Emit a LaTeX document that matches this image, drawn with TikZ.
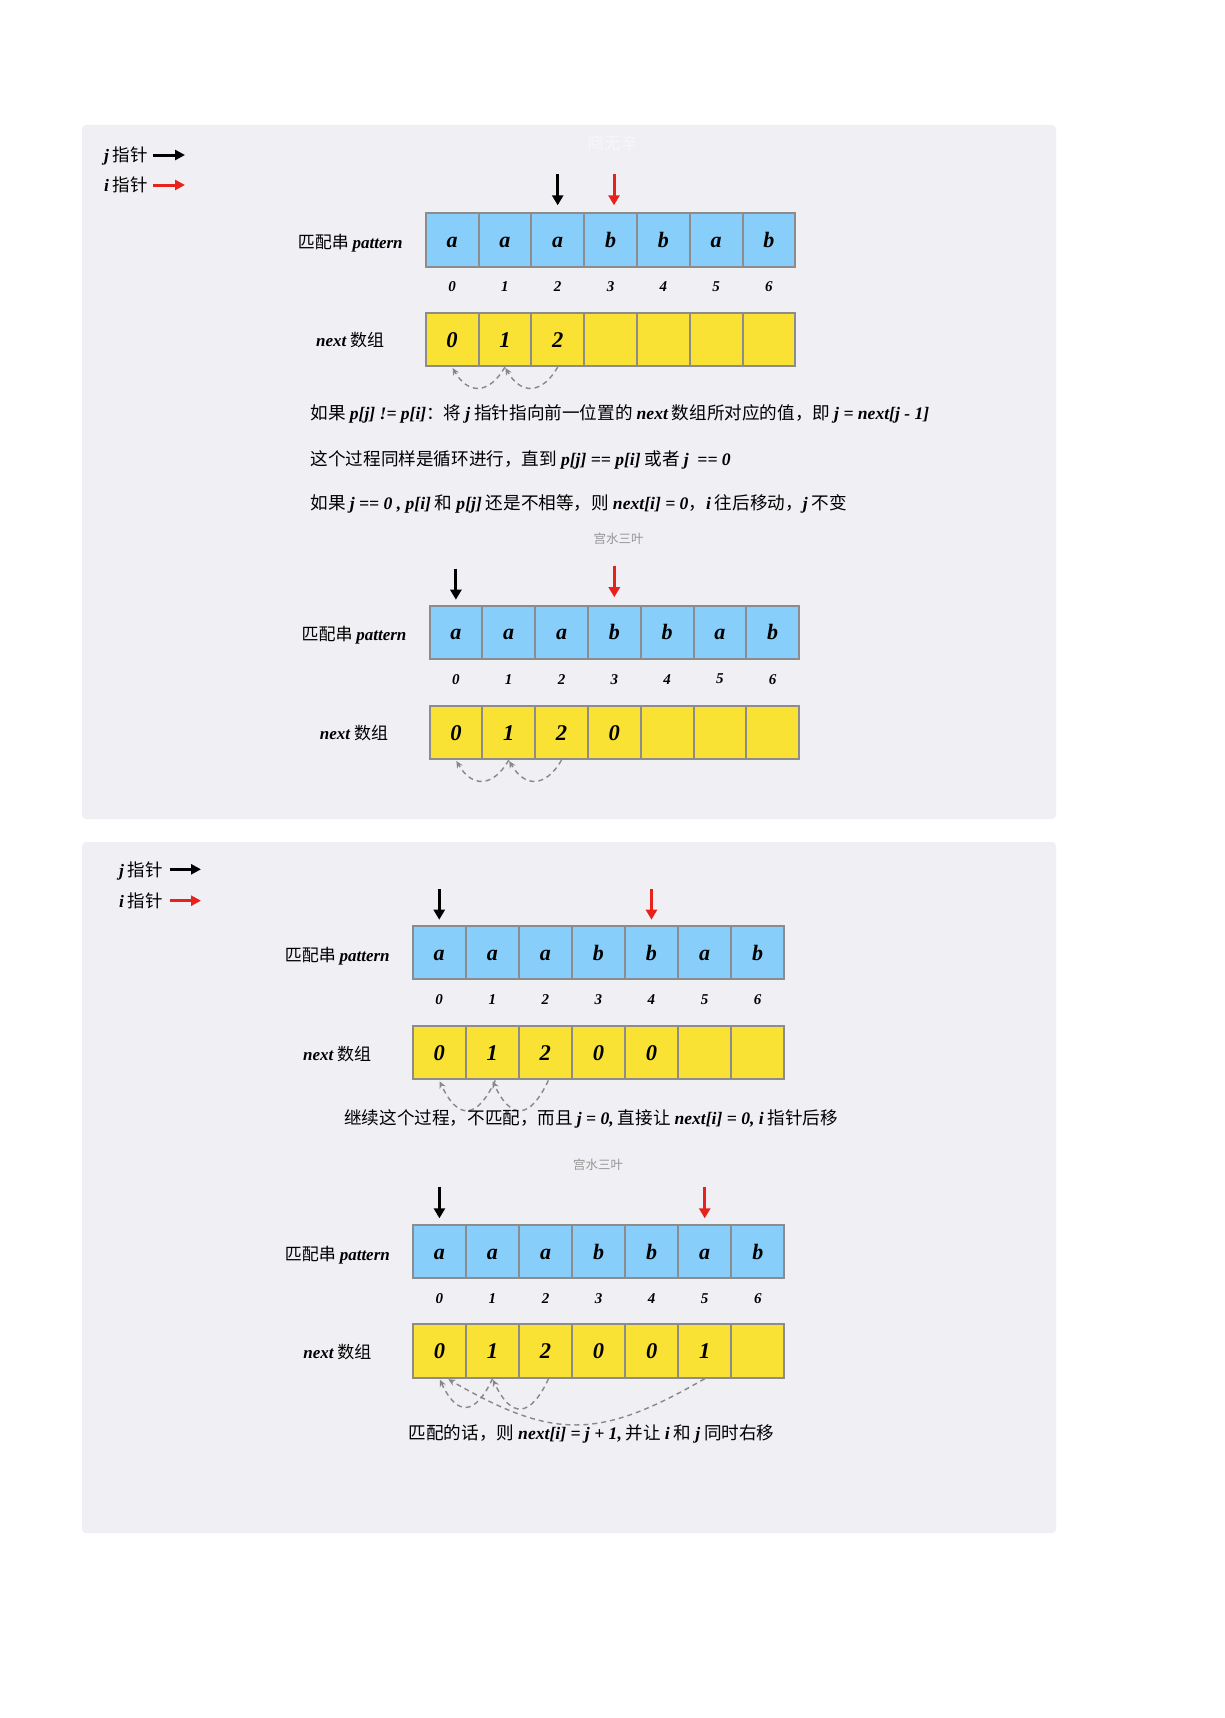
\documentclass[tikz,border=0pt]{standalone}
\usepackage{fontspec}
\setmainfont{Liberation Serif}
\newfontfamily\cjk{Noto Sans CJK SC}
\usetikzlibrary{arrows.meta}
\definecolor{panelbg}{RGB}{239,239,244}
\definecolor{cellblue}{RGB}{135,206,250}
\definecolor{cellyellow}{RGB}{250,226,52}
\definecolor{cellborder}{RGB}{140,140,140}
\definecolor{ptrred}{RGB}{232,34,26}
\definecolor{arcgray}{RGB}{135,135,140}
\definecolor{wmgray}{RGB}{150,150,150}
\definecolor{wmfaint}{RGB}{247,247,250}
\newcommand\mth[1]{{\rmfamily\bfseries\itshape #1}}
\tikzset{
 panel/.style={fill=panelbg, draw=none, rounded corners=4pt},
 pcell/.style={draw=cellborder, line width=2pt, fill=cellblue, minimum height=53.4pt, inner sep=0pt,
   text height=15pt, text depth=0pt, font=\rmfamily\bfseries\itshape\fontsize{22}{22}\selectfont},
 ncell/.style={pcell, fill=cellyellow, text height=15.6pt, font=\rmfamily\bfseries\itshape\fontsize{22.5}{22.5}\selectfont},
 idx/.style={font=\rmfamily\bfseries\itshape\fontsize{15}{15}\selectfont, inner sep=0pt},
 lbl/.style={font=\cjk\fontsize{17}{19}\selectfont, inner sep=0pt, text height=15pt, text depth=2pt},
 txt/.style={font=\cjk\fontsize{17.6}{20}\selectfont, inner sep=0pt, anchor=west, text height=15.5pt, text depth=2pt},
 leg/.style={font=\cjk\fontsize{17.5}{20}\selectfont, inner sep=0pt, anchor=east, text height=15.4pt, text depth=2pt},
 wm/.style={font=\cjk\fontsize{12.5}{14}\selectfont, text=wmgray, inner sep=0pt},
 jptr/.style={draw=black, line width=3pt, -{Triangle[length=10pt,width=11pt]}},
 iptr/.style={jptr, draw=ptrred, fill=ptrred},
 legj/.style={draw=black, line width=3pt, -{Triangle[length=10pt,width=10pt]}},
 legi/.style={legj, draw=ptrred, fill=ptrred},
 nextarc/.style={draw=arcgray, line width=1.4pt, dash pattern=on 5pt off 4pt, -{Stealth[length=7pt,width=6.5pt]}, shorten >=1pt},
}
% #1 id, #2 x0, #3 cell width, #4 pattern top, #5 next top, #6 next values
\newcommand\kmpdiagram[6]{%
 \foreach \c [count=\k from 0] in {a,a,a,b,b,a,b}
   \node[pcell, minimum width=#3] (#1p\k) at ({#2+(\k+0.5)*#3}, {#4+26.7}) {\c};
 \foreach \v [count=\k from 0] in {#6}
   \node[ncell, minimum width=#3] (#1n\k) at ({#2+(\k+0.5)*#3}, {#5+26.7}) {\v};
 \foreach \k in {0,...,6}
   \node[idx] (#1i\k) at ({#2+(\k+0.5)*#3}, {#4+73.4}) {\k};
 \node[lbl] (#1lp) at ({#2-75.5}, {#4+28.7}) {匹配串 \mth{pattern}};
 \node[lbl] (#1ln) at ({#2-75.5}, {#5+27.7}) {\mth{next} 数组};
}
\begin{document}
\begin{tikzpicture}[x=1pt,y=-1pt]
\useasboundingbox[fill=white] (0,0) rectangle (1225,1718);
% panels
\path[panel] (82,125) rectangle (1056,819);
\path[panel] (82,842) rectangle (1056,1533);
\node[font=\cjk\fontsize{17}{20}\selectfont, text=wmfaint, inner sep=0pt] (wm0) at (612.5,142.7) {商无辛};

% ---------- panel 1 legend
\node[leg] (L1j) at (148,155) {\mth{j} 指针};
\node[leg] (L1i) at (148,185) {\mth{i} 指针};
\coordinate (L1je) at (185,155);
\coordinate (L1ie) at (185,185);
\draw[legj] ([xshift=5pt]L1j.east) -- (L1je);
\draw[legi] ([xshift=5pt]L1i.east) -- (L1ie);

% ---------- diagram 1
\kmpdiagram{d1}{425.7}{52.8}{213.3}{312.7}{0,1,2,{},{},{},{}}
\path (d1p2.north) ++(0,-38) coordinate (d1jt);
\path (d1p3.north) ++(3.5,-38) coordinate (d1it);
\draw[jptr, shorten >=7pt] (d1jt) -- (d1p2.north);
\draw[iptr, shorten >=7pt] (d1it) -- ([xshift=3.5pt]d1p3.north);
\draw[nextarc] (d1n2.south) to[out=-120,in=-60,looseness=1.55] (d1n1.south);
\draw[nextarc] (d1n1.south) to[out=-120,in=-60,looseness=1.55] (d1n0.south);

\node[txt] (t1) at (310.5,412.3) {如果 \mth{p[j] != p[i]}：将 \mth{j} 指针指向前一位置的 \mth{next} 数组所对应的值，即 \mth{j = next[j - 1]}};
\node[txt] (t2) at (310.5,459) {这个过程同样是循环进行，直到 \mth{p[j] == p[i]} 或者 \mth{j \ == 0}};
\node[txt] (t3) at (310.5,502.3) {如果 \mth{j == 0 , p[i]} 和 \mth{p[j]} 还是不相等，则 \mth{next[i] = 0}，\mth{i} 往后移动，\mth{j} 不变};
\node[wm] (wm1) at (618.6,539) {宫水三叶};

% ---------- diagram 2
\kmpdiagram{d2}{429.5}{52.8}{605.7}{705.7}{0,1,2,0,{},{},{}}
\path (d2p0.north) ++(0,-36) coordinate (d2jt);
\path (d2p3.north) ++(0,-39) coordinate (d2it);
\draw[jptr, shorten >=5pt] (d2jt) -- (d2p0.north);
\draw[iptr, shorten >=7.5pt] (d2it) -- (d2p3.north);
\draw[nextarc] (d2n2.south) to[out=-120,in=-60,looseness=1.55] (d2n1.south);
\draw[nextarc] (d2n1.south) to[out=-120,in=-60,looseness=1.55] (d2n0.south);

% ---------- panel 2 legend
\node[leg] (L2j) at (163,869.3) {\mth{j} 指针};
\node[leg] (L2i) at (163,900.7) {\mth{i} 指针};
\coordinate (L2je) at (201,869.3);
\coordinate (L2ie) at (201,900.7);
\draw[legj] ([xshift=6.5pt]L2j.east) -- (L2je);
\draw[legi] ([xshift=6.5pt]L2i.east) -- (L2ie);

% ---------- diagram 3
\kmpdiagram{d3}{412.7}{53.06}{926}{1026}{0,1,2,0,0,{},{}}
\path (d3p0.north) ++(0,-36) coordinate (d3jt);
\path (d3p4.north) ++(0,-36) coordinate (d3it);
\draw[jptr, shorten >=5.3pt] (d3jt) -- (d3p0.north);
\draw[iptr, shorten >=5.3pt] (d3it) -- (d3p4.north);
\draw[nextarc] ([xshift=3pt]d3n2.south) to[out=-115,in=-65,looseness=2.0] (d3n1.south);
\draw[nextarc] ([xshift=3pt]d3n1.south) to[out=-115,in=-65,looseness=2.0] (d3n0.south);
\node[txt] (t4) at (344,1117.3) {继续这个过程，不匹配，而且 \mth{j = 0,} 直接让 \mth{next[i] = 0, i} 指针后移};
\node[wm] (wm2) at (598,1165) {宫水三叶};

% ---------- diagram 4
\kmpdiagram{d4}{412.9}{53.06}{1225}{1324.3}{0,1,2,0,0,1,{}}
\path (d4p0.north) ++(0,-37.3) coordinate (d4jt);
\path (d4p5.north) ++(0,-37.3) coordinate (d4it);
\draw[jptr, shorten >=5.7pt] (d4jt) -- (d4p0.north);
\draw[iptr, shorten >=5.7pt] (d4it) -- (d4p5.north);
\draw[nextarc] ([xshift=3pt]d4n2.south) to[out=-115,in=-65,looseness=2.0] (d4n1.south);
\draw[nextarc] (d4n1.south) to[out=-115,in=-65,looseness=2.0] (d4n0.south);
\draw[nextarc] (d4n5.south) to[out=-150,in=-30,looseness=1.22] ([xshift=8pt]d4n0.south);
\node[txt] (t5) at (408.5,1432.3) {匹配的话，则 \mth{next[i] = j + 1,} 并让 \mth{i} 和 \mth{j} 同时右移};
\end{tikzpicture}
\end{document}
